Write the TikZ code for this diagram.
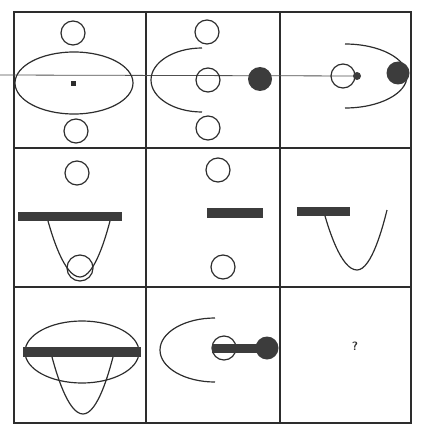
\documentclass[tikz,border=0pt]{standalone}
\usepackage{xcolor}
\usepackage{tikz}
\usetikzlibrary{positioning}
\definecolor{inkgray}{RGB}{45,45,45}
\definecolor{blobgray}{RGB}{60,60,60}
\definecolor{scangray}{RGB}{80,80,80}
\tikzset{
  gridline/.style={line width=1.4pt, draw=inkgray},
  figline/.style={line width=1.2pt, draw=inkgray},
  ring/.style={figline, radius=12},
  blob/.style={fill=blobgray, radius=12},
  barfill/.style={fill=blobgray},
  scanline/.style={line width=0.8pt, draw=scangray}
}
\begin{document}
\begin{tikzpicture}[x=1pt, y=-1pt]
  \useasboundingbox (0,0) rectangle (420,425);
  % grid
  \draw[gridline] (14,12) rectangle (411,423);
  \draw[gridline] (146,12) -- (146,423);
  \draw[gridline] (280,12) -- (280,423);
  \draw[gridline] (14,148) -- (411,148);
  \draw[gridline] (14,287) -- (411,287);
  % stray line across the first row
  \draw[scanline] (0,75) -- (357,76);

  % row 1, cell 1
  \draw[ring] (73,33) circle;
  \draw[figline] (74,83) ellipse[x radius=59, y radius=31];
  \fill[inkgray] (71,81) rectangle (76,86);
  \draw[ring] (76,131) circle;
  % row 1, cell 2
  \draw[ring] (207,32) circle;
  \draw[figline] (202,48) arc[start angle=270, end angle=90, x radius=51, y radius=32];
  \draw[ring] (208,80) circle;
  \fill[blob] (260,79) circle;
  \draw[ring] (208,128) circle;
  % row 1, cell 3
  \draw[figline] (345,44) arc[start angle=-90, end angle=90, x radius=62, y radius=32];
  \draw[ring] (343,76) circle;
  \fill[blobgray] (357,76) circle[radius=4];
  \fill[blob] (398,73) circle[radius=11.5];

  % row 2, cell 1
  \draw[ring] (77,173) circle;
  \fill[barfill] (18,212) rectangle (122,221);
  \draw[figline] (48,221) parabola bend (80,277) (110,221);
  \draw[figline] (80,268) circle[radius=13];
  % row 2, cell 2
  \draw[ring] (218,170) circle;
  \fill[barfill] (207,208) rectangle (263,218);
  \draw[ring] (223,267) circle;
  % row 2, cell 3
  \fill[barfill] (297,207) rectangle (350,216);
  \draw[figline] (325,216) parabola bend (357,270) (387,210);

  % row 3, cell 1
  \draw[figline] (82,352) ellipse[x radius=57, y radius=31];
  \fill[barfill] (23,347) rectangle (141,357);
  \draw[figline] (52,357) parabola bend (83,414) (113,357);
  % row 3, cell 2
  \draw[figline] (215,318) arc[start angle=270, end angle=90, x radius=55, y radius=32];
  \draw[ring] (224,348) circle;
  \fill[barfill] (212,344) rectangle (267,353);
  \fill[blob] (267,348) circle[radius=11.5];
  % row 3, cell 3
  \node[font=\sffamily\bfseries\large, text=inkgray] (qmark) at (355,346) {?};
\end{tikzpicture}
\end{document}
